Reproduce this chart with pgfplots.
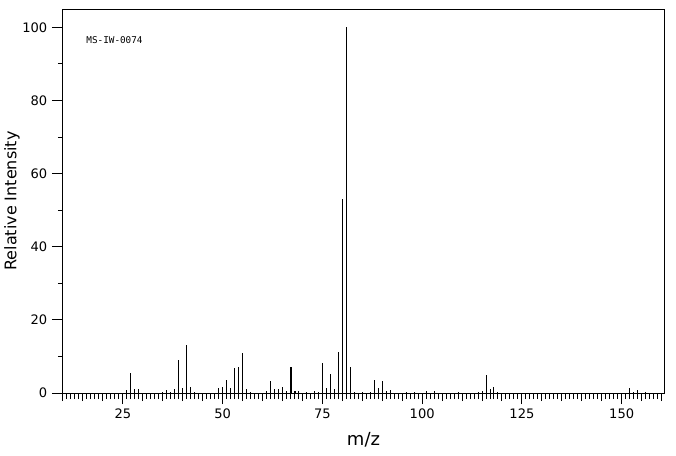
\documentclass[border=0pt]{standalone}
\usepackage{pgfplots}
\pgfplotsset{compat=1.18}
\usepackage{fontspec}
\setmainfont{DejaVu Sans}
\setmonofont{DejaVu Sans Mono}
\begin{document}
\begin{tikzpicture}
\path[use as bounding box] (-47.25pt,-46.5pt) rectangle (459.75pt,294.75pt);
\begin{axis}[
  at={(0,0)}, anchor=south west,
  scale only axis, width=450.75pt, height=288pt,
  xmin=10, xmax=160.6, ymin=0, ymax=105,
  axis line style={line width=0.75pt},
  tick align=outside, tick pos=left,
  every tick/.style={black, line width=0.75pt},
  major tick length=8.25pt, minor tick length=6pt,
  xtick={25,50,75,100,125,150},
  minor xtick={10,15,...,160},
  extra x ticks={10,11,...,160},
  extra x tick labels={},
  extra x tick style={major tick length=4.5pt},
  ytick={0,20,40,60,80,100},
  extra y ticks={10,30,50,70,90},
  extra y tick labels={},
  extra y tick style={major tick length=3.75pt},
  ticklabel style={font=\fontsize{9.8}{11}\selectfont},
  /pgf/number format/assume math mode=true,
  xlabel={m/z}, ylabel={Relative Intensity},
  label style={font=\fontsize{12}{14}\selectfont},
  xlabel style={at={(axis description cs:0.5,-0.122)}, anchor=center, font=\fontsize{13.5}{15}\selectfont},
  ylabel style={at={(axis description cs:-0.085,0.5)}, anchor=center},
]
\addplot[ycomb, black, line width=0.75pt, mark=none] coordinates {
(26,0.8) (27,5.6) (28,1.1) (29,1.1)
(35,0.3) (36,0.8) (37,0.3) (38,1.1) (39,9.0) (40,1.4) (41,13.1) (42,1.6) (43,0.3)
(49,1.4) (50,1.6) (51,3.6) (52,1.4) (53,6.8) (54,7.1) (55,11.0) (56,1.1) (57,0.3)
(61,0.5) (62,3.3) (63,1.1) (64,1.1) (65,1.6) (66,0.5) (67,7.1) (67.25,7.1)
(68,0.5) (68.25,0.5) (69,0.5) (71,0.3) (73,0.5) (74,0.3)
(75,8.2) (76,1.4) (77,5.3) (78,1.1) (79,11.2) (80,53.1) (81,100) (82,7.1) (83,0.3)
(85,0.3) (87,0.3) (88,3.6) (89,1.4) (90,3.3) (91,0.5) (92,0.8)
(96,0.3) (98,0.3) (101,0.5) (103,0.5) (109,0.3)
(114,0.3) (115,0.5) (116,4.9) (117,1.1) (118,1.6) (119,0.3)
(152,1.4) (153,0.3) (154,0.8) (156,0.3)
};
\node[anchor=west, inner sep=0pt, font=\ttfamily\fontsize{7}{8}\selectfont] at (axis cs:15.8,96.4) {MS-IW-0074};
\end{axis}
\end{tikzpicture}
\end{document}
